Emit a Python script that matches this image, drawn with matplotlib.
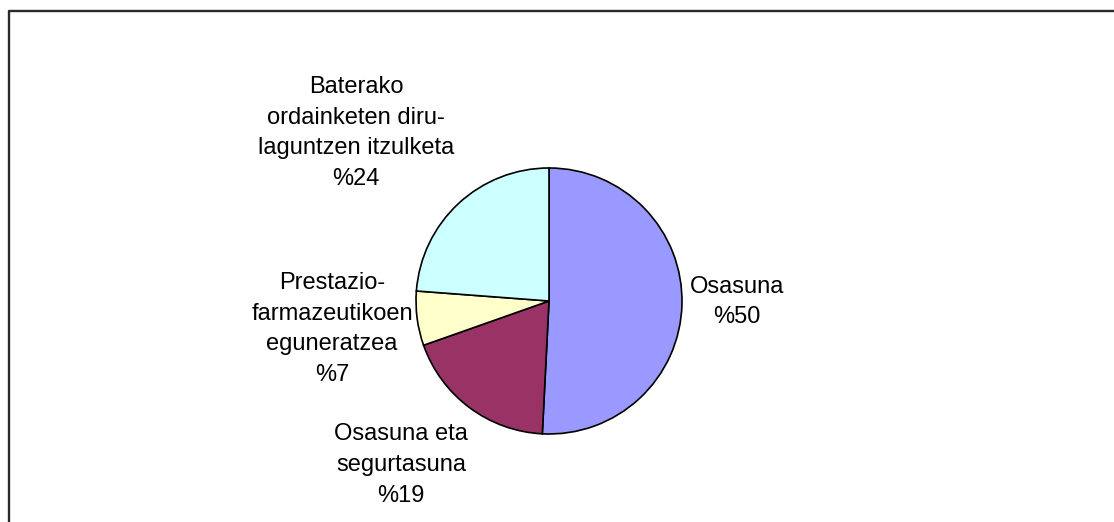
import matplotlib
matplotlib.use("Agg")
import matplotlib.pyplot as plt
from matplotlib.lines import Line2D

plt.rcParams['font.family'] = ['Liberation Sans', 'DejaVu Sans']

labels = ["Osasuna", "Osasuna eta\nsegurtasuna", "Prestazio-\nfarmazeutikoen\neguneratzea",
          "Baterako\nordainketen diru-\nlaguntzen itzulketa"]
values = [50.8, 18.8, 6.6, 23.8]
pct_labels = ["%50", "%19", "%7", "%24"]
colors = ["#9999FF", "#993366", "#FFFFCC", "#CCFFFF"]

W, H = 1114, 522
fig = plt.figure(figsize=(W / 100, H / 100), dpi=100)
ax = fig.add_axes([0, 0, 1, 1])

cx, cy, r = 549, H - 301, 133
ax.pie(values, colors=colors, startangle=90, counterclock=False,
       center=(cx, cy), radius=r, frame=True,
       wedgeprops=dict(edgecolor="black", linewidth=1.2))
ax.set_xlim(0, W)
ax.set_ylim(0, H)
ax.set_aspect("auto")
ax.axis("off")

# label positions (pixel coords from top-left)
label_pos = [(737, 302), (401, 465), (332, 329), (356, 133)]
for lab, pct, (px, py) in zip(labels, pct_labels, label_pos):
    ax.text(px, H - py, lab + "\n" + pct, ha="center", va="center",
            multialignment="center", fontsize=17, linespacing=1.5)

# chart frame (only left/top visible)
fig.add_artist(Line2D([8.5 / W, 8.5 / W, 1.01], [0, 1 - 10.5 / H, 1 - 10.5 / H],
                      transform=fig.transFigure, color="#2a2a2a", linewidth=1.7))

fig.savefig("out.png", dpi=100)
